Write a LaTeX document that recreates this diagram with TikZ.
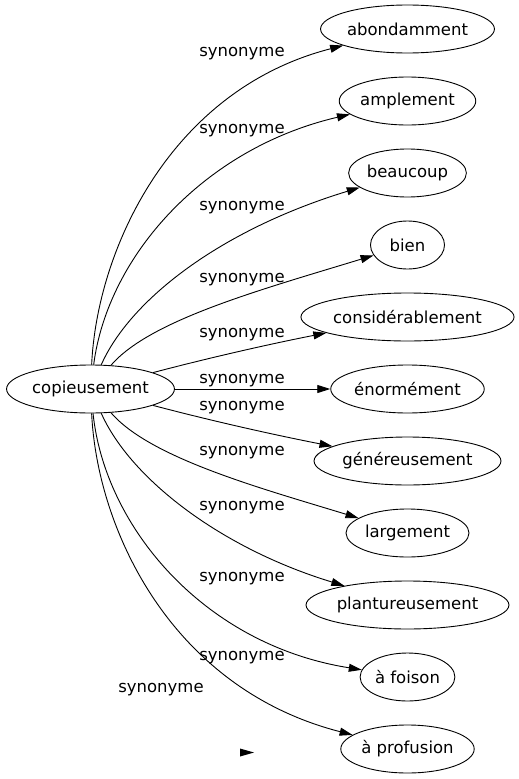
\documentclass[tikz,border=0pt]{standalone}
\usepackage{fontspec}
\setmainfont{DejaVu Sans}
\usetikzlibrary{shapes.geometric,arrows.meta}

\begin{document}
\begin{tikzpicture}[x=1pt,y=-1pt,
  term/.style={draw,ellipse,line width=0.9pt,inner xsep=1pt,minimum width=74pt,minimum height=48pt,font=\fontsize{16.5}{19}\selectfont},
  rel/.style={font=\fontsize{16.5}{19}\selectfont},
  syn/.style={draw,line width=0.9pt,-{Triangle[length=13pt,width=8pt]}}]

\useasboundingbox (0,0) rectangle (519,779);

% source term:
\path (90.5,389) node[term] (copi) {copieusement};

% synonyms:
\path (407.5,29) node[term] (abon) {abondamment};
\path (407.5,101) node[term] (ampl) {amplement};
\path (407.5,173) node[term] (beau) {beaucoup};
\path (407.5,245) node[term] (bien) {bien};
\path (407.5,317) node[term] (cons) {considérablement};
\path (407.5,389) node[term] (enor) {énormément};
\path (407.5,461) node[term] (gene) {généreusement};
\path (407.5,533) node[term] (larg) {largement};
\path (407.5,605) node[term] (plan) {plantureusement};
\path (407.5,677) node[term] (fois) {à foison};
\path (407.5,749) node[term] (prof) {à profusion};

% edges:
\draw[syn] (copi) .. controls (97,250) and (170,90) .. (abon);
\draw[syn] (copi) .. controls (108,255) and (205,148) .. (ampl);
\draw[syn] (copi) .. controls (130,300) and (220,230) .. (beau);
\draw[syn] (copi) .. controls (150,320) and (260,290) .. (bien);
\draw[syn] (copi) .. controls (220,355) and (280,342) .. (cons);
\draw[syn] (copi) -- (enor);
\draw[syn] (copi) .. controls (220,423) and (280,436) .. (gene);
\draw[syn] (copi) .. controls (150,458) and (260,488) .. (larg);
\draw[syn] (copi) .. controls (130,478) and (220,548) .. (plan);
\draw[syn] (copi) .. controls (105,528) and (205,645) .. (fois);
\draw[syn] (copi) .. controls (97,528) and (170,688) .. (prof);

% edge labels:
\path (242,54) node[rel] (l1) {synonyme};
\path (242,131) node[rel] (l2) {synonyme};
\path (242,208) node[rel] (l3) {synonyme};
\path (242,280) node[rel] (l4) {synonyme};
\path (242,335) node[rel] (l5) {synonyme};
\path (242,381) node[rel] (l6) {synonyme};
\path (242,408) node[rel] (l7) {synonyme};
\path (242,453) node[rel] (l8) {synonyme};
\path (242,508) node[rel] (l9) {synonyme};
\path (242,579) node[rel] (l10) {synonyme};
\path (242,658) node[rel] (l11) {synonyme};
\path (161,690) node[rel] (l12) {synonyme};

% stray arrow head:
\fill (240,748.5) -- (254,752.5) -- (240,756.5) -- cycle;

\end{tikzpicture}
\end{document}
